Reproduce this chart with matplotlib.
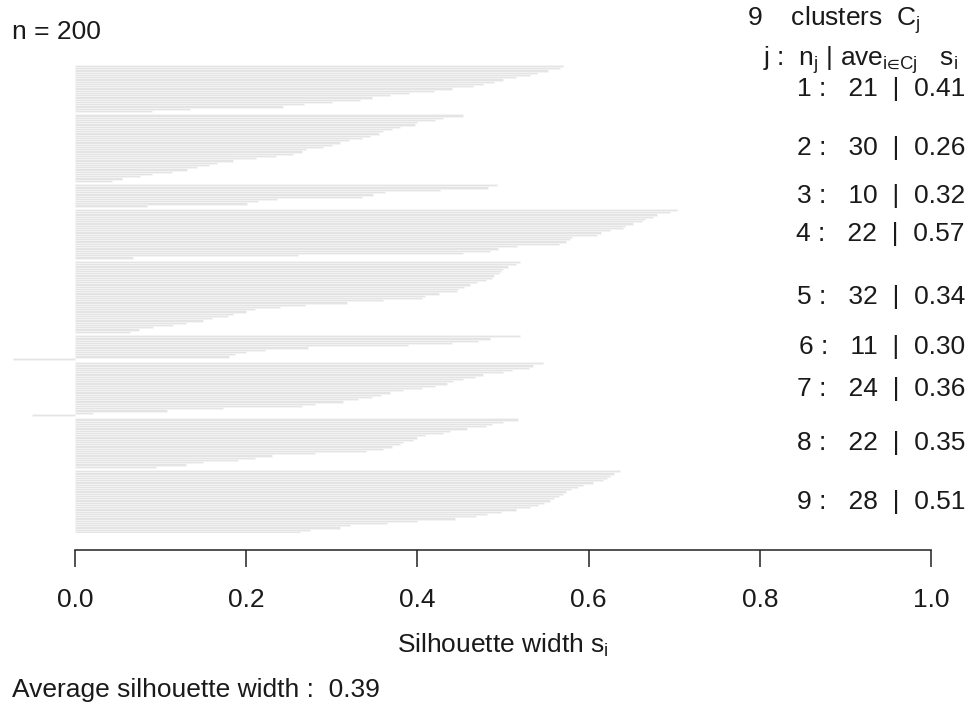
import numpy as np
import matplotlib
matplotlib.use('Agg')
import matplotlib.pyplot as plt
from matplotlib import transforms

plt.rcParams['font.family'] = ['Liberation Sans', 'DejaVu Sans']
plt.rcParams['mathtext.fontset'] = 'custom'
plt.rcParams['mathtext.rm'] = 'Liberation Sans'
plt.rcParams['mathtext.it'] = 'Liberation Sans'
plt.rcParams['mathtext.bf'] = 'Liberation Sans:bold'

# ---------------- data ----------------
n_obs = 200
n_clusters = 9
cluster_ids = [1, 2, 3, 4, 5, 6, 7, 8, 9]
cluster_sizes = [21, 30, 10, 22, 32, 11, 24, 22, 28]
cluster_avg_labels = ['0.41', '0.26', '0.32', '0.57', '0.34', '0.30', '0.36', '0.35', '0.51']
avg_width_label = '0.39'

s_c1 = [0.57, 0.567, 0.553, 0.54, 0.532, 0.515, 0.50, 0.489, 0.477, 0.465, 0.44,
        0.419, 0.39, 0.368, 0.347, 0.333, 0.30, 0.267, 0.243, 0.134, 0.09]
s_c2 = [0.453, 0.43, 0.42, 0.40, 0.397, 0.38, 0.37, 0.36, 0.355, 0.345, 0.335,
        0.32, 0.31, 0.30, 0.29, 0.27, 0.265, 0.255, 0.235, 0.212, 0.185, 0.166,
        0.156, 0.142, 0.131, 0.113, 0.09, 0.076, 0.055, 0.043]
s_c3 = [0.493, 0.483, 0.426, 0.362, 0.348, 0.335, 0.236, 0.214, 0.201, 0.084]
s_c4 = [0.703, 0.695, 0.68, 0.675, 0.666, 0.662, 0.652, 0.643, 0.64, 0.625, 0.615,
        0.61, 0.581, 0.578, 0.574, 0.565, 0.516, 0.494, 0.485, 0.453, 0.261, 0.068]
s_c5 = [0.52, 0.515, 0.506, 0.50, 0.498, 0.495, 0.489, 0.487, 0.48, 0.47, 0.461,
        0.455, 0.448, 0.446, 0.425, 0.409, 0.405, 0.36, 0.318, 0.269, 0.24, 0.21,
        0.20, 0.185, 0.179, 0.16, 0.15, 0.13, 0.115, 0.091, 0.075, 0.064]
s_c6 = [0.52, 0.485, 0.471, 0.44, 0.389, 0.272, 0.222, 0.20, 0.187, 0.18, -0.072]
s_c7 = [0.547, 0.535, 0.53, 0.51, 0.50, 0.477, 0.467, 0.453, 0.442, 0.434, 0.42,
        0.405, 0.383, 0.368, 0.358, 0.347, 0.331, 0.313, 0.28, 0.265, 0.173, 0.107,
        0.021, -0.05]
s_c8 = [0.518, 0.50, 0.487, 0.48, 0.458, 0.438, 0.43, 0.409, 0.40, 0.395, 0.383,
        0.38, 0.37, 0.36, 0.34, 0.28, 0.23, 0.21, 0.19, 0.15, 0.13, 0.095]
s_c9 = [0.637, 0.63, 0.625, 0.621, 0.617, 0.605, 0.594, 0.588, 0.58, 0.574, 0.57,
        0.566, 0.56, 0.555, 0.548, 0.541, 0.532, 0.515, 0.498, 0.481, 0.469, 0.444,
        0.40, 0.364, 0.321, 0.31, 0.275, 0.263]
silhouettes = [s_c1, s_c2, s_c3, s_c4, s_c5, s_c6, s_c7, s_c8, s_c9]

x_ticks = [0.0, 0.2, 0.4, 0.6, 0.8, 1.0]
x_tick_labels = ['0.0', '0.2', '0.4', '0.6', '0.8', '1.0']

# ---------------- layout ----------------
W, H = 977, 716
fig = plt.figure(figsize=(W / 100, H / 100), dpi=100)
x0_px, x1_px = 75, 931
top_px, bot_px = 65, 533
xlim = (-0.08, 1.05)
ppu = x1_px - x0_px
left_px = x0_px + xlim[0] * ppu
right_px = x0_px + xlim[1] * ppu
ax = fig.add_axes([left_px / W, 1 - bot_px / H, (right_px - left_px) / W, (bot_px - top_px) / H])

ys, vals, mids = [], [], []
pos = 0.0
for k, sv in enumerate(silhouettes):
    start = pos
    for v in sv:
        ys.append(pos + 0.5)
        vals.append(v)
        pos += 1
    mids.append((start + pos) / 2)
    if k < len(silhouettes) - 1:
        pos += 1
total = pos

ax.barh(ys, vals, height=1.0, color='#e4e4e4', edgecolor='#f6f6f6', linewidth=0.5)
ax.set_xlim(*xlim)
ax.set_ylim(total, 0)

for sp in ['left', 'right', 'top']:
    ax.spines[sp].set_visible(False)
ax.spines['bottom'].set_position(('outward', 17 * 0.72))
ax.spines['bottom'].set_bounds(0, 1)
ax.spines['bottom'].set_linewidth(1.1)
ax.spines['bottom'].set_color('#222222')
ax.set_yticks([])
ax.set_xticks(x_ticks)
ax.set_xticklabels(x_tick_labels, fontsize=19, color='#1a1a1a')
ax.tick_params(axis='x', length=17 * 0.72, width=1.1, color='#222222', pad=15)

fs = 19
tr = transforms.blended_transform_factory(fig.transFigure, ax.transData)
for j, n_j, a_j, m in zip(cluster_ids, cluster_sizes, cluster_avg_labels, mids):
    ax.text(965 / W, m, f"{j} :   {n_j}  |  {a_j}", transform=tr, ha='right', va='center',
            fontsize=fs, color='#1a1a1a')

def ftext(xp, yp, s, **kw):
    fig.text(xp / W, 1 - yp / H, s, fontsize=fs, color='#1a1a1a', **kw)

ftext(12, 32, f"n = {n_obs}", ha='left', va='center')
ftext(921, 20, f"{n_clusters}    clusters  C$_\\mathregular{{j}}$", ha='right', va='center')
ftext(958, 60, "j :  n$_\\mathregular{j}$ | ave$_{\\mathregular{i\u2208Cj}}$   s$_\\mathregular{i}$",
      ha='right', va='center')
ftext(503, 645, "Silhouette width s$_\\mathregular{i}$", ha='center', va='center')
ftext(12, 690, f"Average silhouette width :  {avg_width_label}", ha='left', va='center')

fig.savefig('out.png', dpi=100)
